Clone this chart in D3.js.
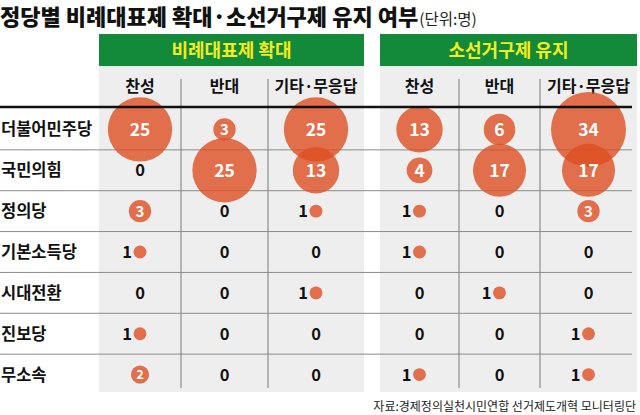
<!DOCTYPE html>
<html><head><meta charset="utf-8">
<script src="https://cdn.jsdelivr.net/npm/d3@7"></script>
<style>body{margin:0;background:#fff;}svg{display:block;font-family:"Noto Sans CJK KR","Noto Sans",sans-serif;}</style>
</head><body>
<script>
const title = "정당별 비례대표제 확대·소선거구제 유지 여부";
const unit = "(단위:명)";
const source = "자료:경제정의실천시민연합 선거제도개혁 모니터링단";
const parties = ["더불어민주당","국민의힘","정의당","기본소득당","시대전환","진보당","무소속"];
const groups = ["비례대표제 확대","소선거구제 유지"];
const answers = ["찬성","반대","기타·무응답"];
// 비례대표제 확대
const expandYes   = [25,0,3,1,0,1,2];
const expandNo    = [3,25,0,0,0,0,0];
const expandOther = [25,13,1,0,1,0,0];
// 소선거구제 유지
const keepYes   = [13,4,1,1,0,0,1];
const keepNo    = [6,17,0,0,1,0,0];
const keepOther = [34,17,3,0,0,1,1];

const seriesByGroup = [[expandYes,expandNo,expandOther],[keepYes,keepNo,keepOther]];

const W = 640, H = 415;
const svg = d3.select("body").append("svg").attr("width",W).attr("height",H);

const colScales = [
  d3.scaleLinear().domain([0,1,2,3]).range([99,181,268,364]),
  d3.scaleLinear().domain([0,1,2,3]).range([380,459,540,637])
];
const y = d3.scaleBand().domain(parties).range([109,395]);
const r = d3.scaleSqrt().domain([0,34]).range([0,37.5]);

colScales.forEach((cs,gi)=>{
  const x0 = cs(0), x1 = cs(3);
  svg.append("rect").attr("x",x0).attr("y",66).attr("width",x1-x0).attr("height",392-66).attr("fill","#eeeeee");
  svg.append("rect").attr("x",x0).attr("y",34).attr("width",x1-x0).attr("height",32).attr("fill","#138a3a");
  svg.append("text").attr("x",(x0+x1)/2).attr("y",56.5).attr("text-anchor","middle")
    .attr("fill","#f3ec1f").attr("font-size",18).attr("font-weight",700).text(groups[gi]);
  answers.forEach((a,ai)=>{
    svg.append("text").attr("x",cs(ai+0.5)).attr("y",92).attr("text-anchor","middle")
      .attr("fill","#111").attr("font-size",16).attr("font-weight",700).text(a);
  });
  [1,2].forEach(b=>{
    svg.append("line").attr("x1",cs(b)).attr("x2",cs(b)).attr("y1",79).attr("y2",388)
      .attr("stroke","#7a7a7a").attr("stroke-width",1);
  });
});

parties.slice(1).forEach(p=>{
  svg.append("line").attr("x1",0).attr("x2",632).attr("y1",y(p)).attr("y2",y(p))
    .attr("stroke","#8a8a8a").attr("stroke-width",1);
});

svg.append("g").selectAll("text").data(parties).join("text")
  .attr("x",1).attr("y",p=>y(p)+y.bandwidth()/2+6)
  .attr("fill","#111").attr("font-size",16.5).attr("font-weight",700).text(p=>p);

const cells = [];
seriesByGroup.forEach((ser,gi)=>ser.forEach((vals,ai)=>vals.forEach((v,pi)=>{
  cells.push({v, cx: colScales[gi](ai+0.5), cy: y(parties[pi])+y.bandwidth()/2});
})));

const bub = cells.filter(d=>d.v>0);
svg.append("g").selectAll("circle").data(bub).join("circle")
  .attr("cx",d=>d.cx).attr("cy",d=>d.cy).attr("r",d=>r(d.v))
  .attr("fill","#dd4f22").attr("fill-opacity",0.8);

svg.append("line").attr("x1",0).attr("x2",632).attr("y1",107).attr("y2",107)
  .attr("stroke","#111").attr("stroke-width",2.5);

const lab = svg.append("g");
cells.forEach(d=>{
  if(d.v===0){
    lab.append("text").attr("x",d.cx).attr("y",d.cy+6).attr("text-anchor","middle")
      .attr("fill","#111").attr("font-size",16.5).attr("font-weight",700).text(d.v);
  } else if(d.v===1){
    lab.append("text").attr("x",d.cx-r(d.v)-1.5).attr("y",d.cy+6).attr("text-anchor","end")
      .attr("fill","#111").attr("font-size",16.5).attr("font-weight",700).text(d.v);
  } else {
    const fs = Math.min(17.5, r(d.v)*1.35);
    lab.append("text").attr("x",d.cx).attr("y",d.cy+fs*0.36).attr("text-anchor","middle")
      .attr("fill","#fff").attr("font-size",fs).attr("font-weight",700).text(d.v);
  }
});

const t = svg.append("text").attr("x",0).attr("y",25).attr("fill","#111");
t.append("tspan").attr("font-size",22).attr("font-weight",900).text(title);
t.append("tspan").attr("font-size",15.5).attr("fill","#222").attr("dx",1).text(unit);

svg.append("text").attr("x",636).attr("y",411).attr("text-anchor","end")
  .attr("fill","#222").attr("font-size",12).text(source);
</script>
</body></html>
